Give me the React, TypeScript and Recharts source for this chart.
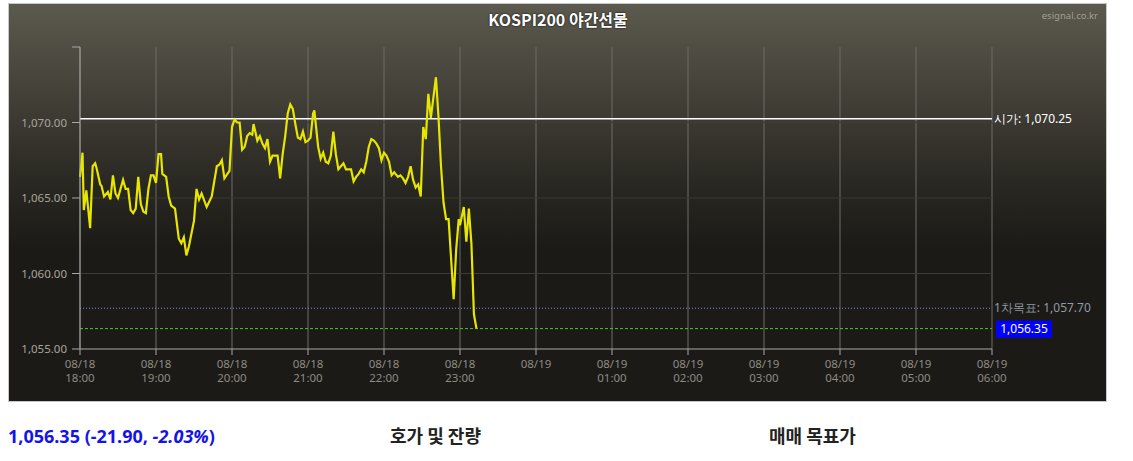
import React from "react";
import {
  LineChart,
  Line,
  XAxis,
  YAxis,
  CartesianGrid,
  ReferenceLine,
} from "recharts";

// minutes after 08/18 18:00
const minutes = [
  0, 2, 3, 5, 8, 10, 12, 13, 16, 17, 19, 22, 24, 26, 28, 30, 34, 36, 38, 40,
  42, 44, 46, 48, 50, 52, 54, 56, 58, 60, 62, 64, 65, 68, 70, 72, 75, 78, 80, 82,
  84, 86, 90, 92, 94, 96, 100, 104, 108, 110, 112, 114, 118, 120, 122, 124, 126,
  128, 130, 132, 134, 136, 137, 140, 142, 144, 146, 148, 150, 152, 154, 156, 158,
  160, 162, 164, 166, 168, 170, 172, 174, 176, 178, 180, 182, 184, 185, 188, 190,
  192, 194, 196, 198, 200, 202, 204, 206, 208, 210, 212, 214, 216, 218, 220, 222,
  224, 226, 228, 230, 232, 234, 236, 238, 240, 242, 244, 246, 248, 251, 253, 255,
  257, 259, 261, 263, 265, 267, 269, 271, 273, 275, 277, 281, 283, 285, 287, 289,
  291, 295, 297, 299, 300, 301, 303, 305, 307, 309, 311, 313,
];

const prices = [
  1066.4, 1068.0, 1064.2, 1065.5, 1063.0, 1067.1, 1067.3, 1067.0, 1065.9, 1065.8,
  1065.1, 1065.4, 1064.9, 1066.5, 1065.3, 1065.0, 1066.2, 1065.6, 1065.6, 1064.2,
  1064.0, 1064.3, 1066.4, 1064.6, 1064.1, 1064.0, 1065.6, 1066.5, 1066.5, 1066.0,
  1067.9, 1067.9, 1066.6, 1066.4, 1065.1, 1064.5, 1064.3, 1062.3, 1062.0, 1062.4,
  1061.2, 1061.8, 1063.5, 1065.6, 1064.9, 1065.3, 1064.4, 1065.1, 1067.1, 1067.2,
  1067.5, 1066.3, 1066.8, 1069.7, 1070.2, 1070.0, 1070.0, 1068.2, 1068.4, 1069.1,
  1069.3, 1069.2, 1069.9, 1068.8, 1069.1, 1068.6, 1068.3, 1068.9, 1067.4, 1067.8,
  1067.8, 1067.8, 1066.3, 1067.9, 1069.1, 1070.6, 1071.2, 1070.9, 1069.9, 1069.0,
  1068.9, 1069.4, 1068.7, 1068.8, 1069.0, 1070.6, 1070.8, 1068.4, 1067.6, 1068.0,
  1067.4, 1067.3, 1067.8, 1069.4, 1067.9, 1066.9, 1067.1, 1067.3, 1066.9, 1066.9,
  1066.9, 1066.1, 1066.4, 1066.6, 1066.9, 1066.7, 1067.4, 1068.4, 1068.9, 1068.8,
  1068.6, 1068.3, 1067.5, 1068.0, 1067.8, 1067.4, 1066.5, 1066.7, 1066.4, 1066.5,
  1066.3, 1066.0, 1066.4, 1067.1, 1066.2, 1065.7, 1065.9, 1065.1, 1069.7, 1068.9,
  1071.9, 1070.3, 1073.0, 1070.4, 1067.1, 1064.7, 1063.6, 1063.6, 1058.3, 1061.6,
  1063.6, 1063.2, 1063.6, 1064.4, 1062.1, 1064.3, 1062.0, 1057.3, 1056.35,
];

const xTicks = [0, 60, 120, 180, 240, 300, 360, 420, 480, 540, 600, 660, 720];
const xDates = [
  "08/18", "08/18", "08/18", "08/18", "08/18", "08/18",
  "08/19", "08/19", "08/19", "08/19", "08/19", "08/19", "08/19",
];
const xTimes = [
  "18:00", "19:00", "20:00", "21:00", "22:00", "23:00",
  "", "01:00", "02:00", "03:00", "04:00", "05:00", "06:00",
];

const yTicks = [1055, 1060, 1065, 1070, 1075];
const gridValues = [1060, 1065, 1070];

const openPrice = 1070.25;
const target1 = 1057.7;
const lastPrice = 1056.35;

const data = minutes.map((m, i) => ({ m, price: prices[i] }));

const fmt = (v: number) =>
  v.toLocaleString("en-US", { minimumFractionDigits: 2, maximumFractionDigits: 2 });

const XTick = ({ x, y, payload }: any) => {
  const i = xTicks.indexOf(payload.value);
  return (
    <text x={x} y={y} textAnchor="middle" fill="#8c8a84" fontSize={11.5} fontFamily="Noto Sans">
      <tspan x={x} dy={11}>{xDates[i]}</tspan>
      {xTimes[i] && <tspan x={x} dy={14}>{xTimes[i]}</tspan>}
    </text>
  );
};

const SideLabel = ({ viewBox, text, color }: any) => {
  const x = viewBox.x + viewBox.width + 2;
  return (
    <text x={x} y={viewBox.y + 4} fill={color} fontSize={12} fontFamily="Noto Sans">
      {text}
    </text>
  );
};

const PriceBox = ({ viewBox }: any) => {
  const x = viewBox.x + viewBox.width + 4;
  const y = viewBox.y;
  return (
    <g>
      <rect x={x} y={y - 8} width={56} height={17} fill="#0000ff" />
      <text x={x + 28} y={y + 4} fill="#fff" fontSize={12} textAnchor="middle" fontFamily="Noto Sans">
        {fmt(lastPrice)}
      </text>
    </g>
  );
};

export default function App() {
  return (
    <div style={{ position: "fixed", left: 0, top: 0, width: 1133, height: 461, background: "#fff" }}>
      <div
        style={{
          position: "absolute",
          left: 8,
          top: 3,
          width: 1097,
          height: 397,
          border: "1px solid #c8c8c8",
          background: "linear-gradient(to bottom, #5c594e 0%, #2a2822 45%, #1c1a16 62%, #1c1a16 100%)",
        }}
      />
      <div
        style={{
          position: "absolute",
          left: 0,
          width: 1116,
          top: 7,
          textAlign: "center",
          color: "#fff",
          fontWeight: 700,
          fontSize: 16,
          fontFamily: "'Noto Sans CJK KR', 'Noto Sans', sans-serif",
          textShadow: "0 0 2px #000",
        }}
      >
        KOSPI200 야간선물
      </div>
      <div
        style={{
          position: "absolute",
          right: 35,
          top: 9,
          color: "#a29e92",
          fontSize: 9.5,
          fontFamily: "'Noto Sans', sans-serif",
        }}
      >
        esignal.co.kr
      </div>
      <div style={{ position: "absolute", left: 8, top: 3 }}>
        <LineChart
          width={1099}
          height={399}
          data={data}
          margin={{ top: 44, right: 115, left: 0, bottom: 0 }}
        >
          <CartesianGrid horizontal={false} stroke="#6e6c66" strokeWidth={1} />
          {gridValues.map((v) => (
            <ReferenceLine key={v} y={v} stroke="#3e3b35" strokeWidth={1} ifOverflow="hidden" />
          ))}
          <XAxis
            dataKey="m"
            type="number"
            domain={[0, 720]}
            ticks={xTicks}
            interval={0}
            height={53}
            tickSize={6}
            stroke="#a8a8a8"
            tick={<XTick />}
          />
          <YAxis
            type="number"
            domain={[1055, 1075]}
            ticks={yTicks}
            width={72}
            tickSize={8}
            tickMargin={5}
            stroke="#a8a8a8"
            tick={{ fill: "#a8a49c", fontSize: 11.5, fontFamily: "Noto Sans" }}
            tickFormatter={(v: number) => (v === 1075 ? "" : fmt(v))}
          />
          <ReferenceLine
            y={openPrice}
            stroke="#ffffff"
            strokeWidth={1.5}
            label={<SideLabel text={`시가: ${fmt(openPrice)}`} color="#ffffff" />}
          />
          <ReferenceLine
            y={target1}
            stroke="#7f8fd8"
            strokeDasharray="1 2"
            strokeWidth={1}
            label={<SideLabel text={`1차목표: ${fmt(target1)}`} color="#8f99a8" />}
          />
          <ReferenceLine
            y={lastPrice}
            stroke="#44cc22"
            strokeDasharray="3 2"
            strokeWidth={1}
            label={<PriceBox />}
          />
          <Line
            type="linear"
            dataKey="price"
            stroke="#e6e600"
            strokeWidth={2.2}
            dot={false}
            isAnimationActive={false}
          />
        </LineChart>
      </div>
      <div
        style={{
          position: "absolute",
          left: 8,
          top: 424,
          color: "#1414e8",
          fontWeight: 700,
          fontSize: 18,
          fontFamily: "'Noto Sans', sans-serif",
        }}
      >
        1,056.35 (-21.90, <i>-2.03%</i>)
      </div>
      <div
        style={{
          position: "absolute",
          left: 390,
          top: 422,
          color: "#222",
          fontWeight: 700,
          fontSize: 18,
          fontFamily: "'Noto Sans CJK KR', sans-serif",
        }}
      >
        호가 및 잔량
      </div>
      <div
        style={{
          position: "absolute",
          left: 769,
          top: 422,
          color: "#222",
          fontWeight: 700,
          fontSize: 18,
          fontFamily: "'Noto Sans CJK KR', sans-serif",
        }}
      >
        매매 목표가
      </div>
    </div>
  );
}
